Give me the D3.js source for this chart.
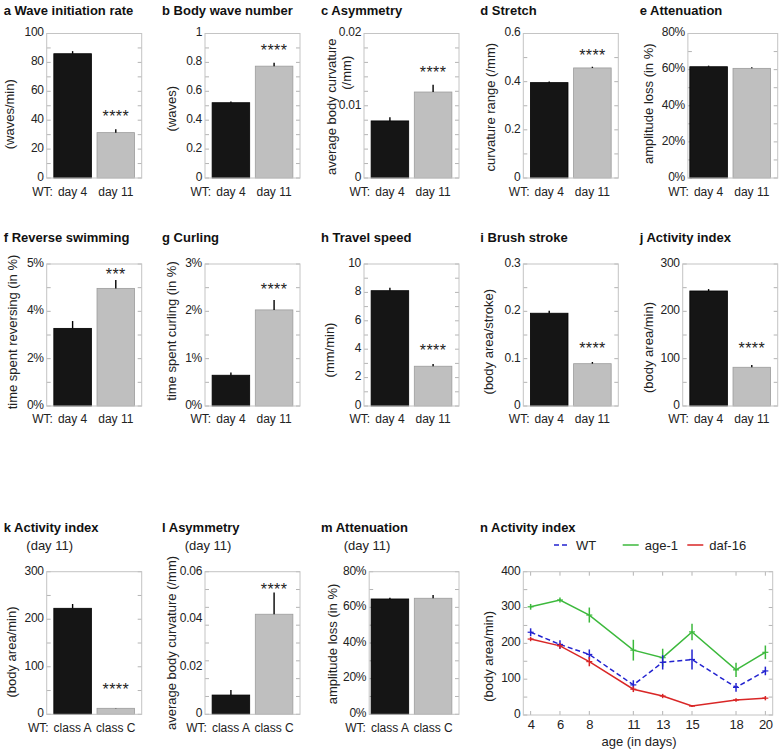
<!DOCTYPE html>
<html><head><meta charset="utf-8">
<script src="https://cdn.jsdelivr.net/npm/d3@7"></script>
<style>
body{margin:0;background:#fff}
svg{display:block}
text{font-family:"Liberation Sans",Arial,sans-serif;fill:#222}
</style>
</head><body>
<svg id="c" width="782" height="753"></svg>
<script>
// ---------------- DATA ----------------
const barLetters = ["a","b","c","d","e","f","g","h","i","j","k","l","m"];
const barTitles = ["Wave initiation rate","Body wave number","Asymmetry","Stretch","Attenuation",
  "Reverse swimming","Curling","Travel speed","Brush stroke","Activity index",
  "Activity index","Asymmetry","Attenuation"];
const barSubtitles = ["","","","","","","","","","","(day 11)","(day 11)","(day 11)"];
const barYLabels = [["(waves/min)"],["(waves)"],["average body curvature","(/mm)"],["curvature range (/mm)"],
  ["amplitude loss (in %)"],["time spent reversing (in %)"],["time spent curling (in %)"],["(mm/min)"],
  ["(body area/stroke)"],["(body area/min)"],["(body area/min)"],["average body curvature (/mm)"],
  ["amplitude loss (in %)"]];
const groupPrefix = "WT:";
const dayGroups = ["day 4","day 11"];
const classGroups = ["class A","class C"];
const barMeans = [[86,31.4],[0.521,0.774],[0.0079,0.0119],[0.396,0.457],[61.6,60.7],
  [3.28,4.97],[0.65,2.03],[8.12,2.80],[0.196,0.0894],[243,81.8],
  [223,12.6],[0.0081,0.0421],[64.7,65.1]];
const barErrors = [[1.8,2.4],[0.008,0.023],[0.0005,0.001],[0.005,0.005],[0.6,0.6],
  [0.31,0.35],[0.06,0.21],[0.21,0.16],[0.005,0.0036],[4,4.8],
  [9,0.8],[0.0021,0.0091],[0.7,1.8]];
const barStars = ["****","****","****","****","","***","****","****","****","****","****","****",""];
const starLevels = [44.6,0.899,0.0150,0.518,null,5.65,2.51,4.06,0.127,127,58,0.0537,null];
const yTickValues = [[0,20,40,60,80,100],[0,0.2,0.4,0.6,0.8,1],[0,0.01,0.02],[0,0.2,0.4,0.6],[0,20,40,60,80],
  [0,2,4,6],[0,1,2,3],[0,2,4,6,8,10],[0,0.1,0.2,0.3],[0,100,200,300],
  [0,100,200,300],[0,0.02,0.04,0.06],[0,20,40,60,80]];
const yTickLabels = [["0","20","40","60","80","100"],["0","0.2","0.4","0.6","0.8","1"],["0","0.01","0.02"],
  ["0","0.2","0.4","0.6"],["0%","20%","40%","60%","80%"],["0%","2%","4%","5%"],["0%","1%","2%","3%"],
  ["0","2","4","6","8","10"],["0","0.1","0.2","0.3"],["0","100","200","300"],
  ["0","100","200","300"],["0","0.02","0.04","0.06"],["0%","20%","40%","60%","80%"]];
const minorSteps = [10,0.1,0.002,0.1,10,1,0.5,1,0.05,50,50,0.0075,10];

const nTitle = "Activity index";
const nDays = [4,6,8,11,13,15,18,20];
const nSeries = ["WT","age-1","daf-16"];
const wtMean   = [231,197,169,84,147,155,77,123];
const wtErr    = [11,12,14,13,20,28,12,12];
const age1Mean = [302,321,279,181,160,232,126,175];
const age1Err  = [8,7,21,29,25,23,20,19];
const daf16Mean= [212,193,149,72,53,25,42,47];
const daf16Err = [6,8,13,8,6,3,5,6];
const nYTicks = [0,100,200,300,400];
const nXLabel = "age (in days)";
const nYLabel = "(body area/min)";

// ---------------- LAYOUT ----------------
const svg = d3.select("#c");
const colX = [46.7, 205, 364, 523.3, 682.7];
const rowTop = [33.5, 264, 571.7], rowBot = [178, 406, 714.3];
const titleBase = [14.5, 242, 532];
const xLabBase = [195.5, 422.5, 731.5];
const PW = 95;
const boxStart = [0.4,0.4,0.4,0.4,0.52,0.4,0.4,0.4,0.4,0.4,0.4,0.4,0.52];
const yLabDX = [[-37.4],[-33.3],[-32.3,-17.3],[-33],[-39.7],[-34.4],[-33.3],[-34.3],[-35],[-34.4],[-35],[-33.3],[-36.6]];
const yLabDY = [[8.5],[3],[1,-33],[1.5],[-2],[-3],[-4],[15],[6.7],[12.5],[9],[0],[1]];
const BOX = "#c4c4c4", TICK = "#b4b4b4";
const BW = 0.87;
const TICKFONT = "12px", LABFONT = "13px";

function minorTicks(g, y, x1, x2, vals){
  vals.forEach(v=>{
    g.append("line").attr("x1",x1).attr("x2",x1+4).attr("y1",y(v)).attr("y2",y(v)).attr("stroke",TICK);
    g.append("line").attr("x1",x2-4).attr("x2",x2).attr("y1",y(v)).attr("y2",y(v)).attr("stroke",TICK);
  });
}
function styleTicks(sel){
  sel.selectAll("text").style("font-size",TICKFONT).style("letter-spacing","-0.3px")
    .style("font-family","'Liberation Sans',Arial,sans-serif").attr("fill","#262626");
}

barLetters.forEach((L,i)=>{
  const row = i<5?0:(i<10?1:2);
  const col = i<10? i%5 : i-10;
  const x0 = colX[col];
  const x = d3.scaleLinear().domain([0.4,2.6]).range([x0,x0+PW]);
  const boxL = x(boxStart[i]), boxR = x0+PW;
  const tv = yTickValues[i];
  const ymax = tv[tv.length-1];
  const y = d3.scaleLinear().domain([0,ymax]).range([rowBot[row],rowTop[row]]);
  const g = svg.append("g");

  // title
  const t = g.append("text").attr("x",x0-43).attr("y",titleBase[row])
    .style("font-weight","bold").style("font-size","13px").style("fill","#111");
  t.append("tspan").text(L+" ");
  t.append("tspan").text(barTitles[i]);
  if(barSubtitles[i]) g.append("text").attr("x",x0+3).attr("y",550).attr("text-anchor","middle")
      .style("font-size","13px").text(barSubtitles[i]);

  // minor ticks
  const minors = d3.range(0, ymax+minorSteps[i]*0.01, minorSteps[i]);
  minorTicks(g, y, boxL, boxR, minors);

  // bars
  const groups = i>=10 ? classGroups : dayGroups;
  barMeans[i].forEach((v,j)=>{
    const cx = j+1;
    g.append("rect").attr("x",x(cx-BW/2)).attr("width",x(cx+BW/2)-x(cx-BW/2))
      .attr("y",y(v)).attr("height",y(0)-y(v))
      .attr("fill", j===0?"#151515":"#bfbfbf")
      .attr("stroke", j===0?"#000":"#9c9c9c").attr("stroke-width",0.8);
    g.append("line").attr("x1",x(cx)).attr("x2",x(cx)).attr("y1",y(v)).attr("y2",y(v+barErrors[i][j]))
      .attr("stroke","#000").attr("stroke-width",1.4);
  });

  // box
  g.append("rect").attr("x",boxL).attr("y",rowTop[row]).attr("width",boxR-boxL)
    .attr("height",rowBot[row]-rowTop[row]).attr("fill","none").attr("stroke",BOX).attr("stroke-width",1);

  // stars
  if(barStars[i]) g.append("text").attr("x",x(2)).attr("y",y(starLevels[i])+8)
      .attr("text-anchor","middle").style("font-size","16px").style("letter-spacing","0.4px")
      .text(barStars[i]);

  // y axis labels
  const ax = d3.axisLeft(y).tickValues(tv).tickFormat((d,k)=>yTickLabels[i][k]).tickSize(0).tickPadding(3);
  const ag = g.append("g").attr("transform",`translate(${boxL},-1.5)`).call(ax);
  ag.select(".domain").remove();
  styleTicks(ag);

  // x labels
  groups.forEach((lab,j)=>{
    const tx = g.append("text").attr("x",x(j+1)).attr("y",xLabBase[row]).attr("text-anchor","middle")
      .style("font-size",TICKFONT).text(lab);
    if(j===0){
      const w = tx.node().getComputedTextLength();
      g.append("text").attr("x",x(1)-w/2-5).attr("y",xLabBase[row]).attr("text-anchor","end")
        .style("font-size",TICKFONT).text(groupPrefix);
    }
  });

  // y label
  const cy = (rowTop[row]+rowBot[row])/2;
  barYLabels[i].forEach((s,k)=>{
    const lx = boxL + yLabDX[i][k], ly = cy + yLabDY[i][k];
    g.append("text").attr("transform",`translate(${lx},${ly}) rotate(-90)`)
      .attr("text-anchor","middle").attr("dominant-baseline","central")
      .style("font-size",LABFONT).text(s);
  });
});

// ---------------- PANEL n ----------------
(function(){
  const L = 523.3, R = 772.7, T = rowTop[2], B = 715;
  const x = d3.scaleLinear().domain([3.5,20.5]).range([L,R]);
  const y = d3.scaleLinear().domain([0,400]).range([B,T]);
  const g = svg.append("g");
  const t = g.append("text").attr("x",480).attr("y",titleBase[2])
    .style("font-weight","bold").style("font-size","13px").style("fill","#111");
  t.append("tspan").text("n ");
  t.append("tspan").text(nTitle);

  minorTicks(g, y, L, R, d3.range(0,401,50));
  nDays.forEach(d=>{
    g.append("line").attr("x1",x(d)).attr("x2",x(d)).attr("y1",B).attr("y2",B-4).attr("stroke",TICK);
    g.append("line").attr("x1",x(d)).attr("x2",x(d)).attr("y1",T).attr("y2",T+4).attr("stroke",TICK);
  });
  g.append("rect").attr("x",L).attr("y",T).attr("width",R-L).attr("height",B-T)
    .attr("fill","none").attr("stroke",BOX);

  const series = [
    {name:nSeries[0], m:wtMean, e:wtErr, c:"#2323d0", dash:"5,3"},
    {name:nSeries[1], m:age1Mean, e:age1Err, c:"#3cb93c", dash:null},
    {name:nSeries[2], m:daf16Mean, e:daf16Err, c:"#d92626", dash:null}
  ];
  const line = d3.line().x((d,k)=>x(nDays[k])).y(d=>y(d));
  [series[1],series[0],series[2]].forEach(s=>{
    g.append("path").attr("d",line(s.m)).attr("fill","none").attr("stroke",s.c)
      .attr("stroke-width",1.5).attr("stroke-dasharray",s.dash);
    s.m.forEach((v,k)=>{
      g.append("line").attr("x1",x(nDays[k])).attr("x2",x(nDays[k]))
        .attr("y1",y(v-s.e[k])).attr("y2",y(v+s.e[k])).attr("stroke",s.c).attr("stroke-width",1.5);
      g.append("line").attr("x1",x(nDays[k])-3).attr("x2",x(nDays[k])+3)
        .attr("y1",y(v)).attr("y2",y(v)).attr("stroke",s.c).attr("stroke-width",1.2);
    });
  });

  const ay = d3.axisLeft(y).tickValues(nYTicks).tickFormat(d3.format("d")).tickSize(0).tickPadding(3);
  const ag = g.append("g").attr("transform",`translate(${L},-1.5)`).call(ay);
  ag.select(".domain").remove();
  styleTicks(ag);
  const axb = d3.axisBottom(x).tickValues(nDays).tickFormat(d3.format("d")).tickSize(0).tickPadding(5);
  const bg = g.append("g").attr("transform",`translate(0,${B})`).call(axb);
  bg.select(".domain").remove();
  styleTicks(bg);
  bg.selectAll("text").style("font-size","13px");

  g.append("text").attr("x",639).attr("y",746).attr("text-anchor","middle").style("font-size","13px").text(nXLabel);
  g.append("text").attr("transform",`translate(${L-35},${(T+B)/2+13}) rotate(-90)`)
    .attr("text-anchor","middle").attr("dominant-baseline","central").style("font-size","13px").text(nYLabel);

  // legend
  const lx = [554, 622.7, 687.3];
  series.forEach((s,k)=>{
    g.append("line").attr("x1",lx[k]).attr("x2",lx[k]+16).attr("y1",545).attr("y2",545)
      .attr("stroke",s.c).attr("stroke-width",1.5).attr("stroke-dasharray",s.dash);
    g.append("text").attr("x",lx[k]+22).attr("y",549.5).style("font-size","13px").text(s.name);
  });
})();
</script>
</body></html>
